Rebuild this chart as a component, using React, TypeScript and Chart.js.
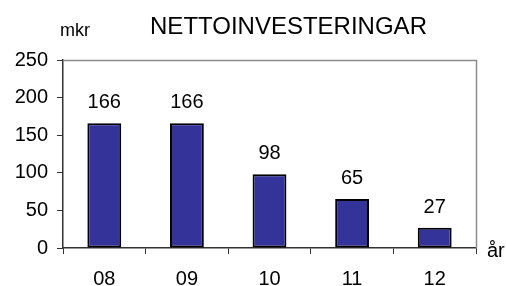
import React, { useEffect, useRef } from "react";
import { Chart, registerables } from "chart.js";

Chart.register(...registerables);

const categories = ["08", "09", "10", "11", "12"];
const values = [166, 166, 98, 65, 27];
const yTicks = [0, 50, 100, 150, 200, 250];
const titleText = "NETTOINVESTERINGAR";
const yUnit = "mkr";
const xUnit = "år";

const FONT = "'Liberation Sans', Arial, sans-serif";

export default function App() {
  const ref = useRef<HTMLCanvasElement | null>(null);

  useEffect(() => {
    if (!ref.current) return;
    const textPlugin = {
      id: "texts",
      afterDraw(chart: any) {
        const ctx = chart.ctx;
        const a = chart.chartArea;
        ctx.save();
        // plot border top/right
        ctx.strokeStyle = "#8c8c8c";
        ctx.lineWidth = 1.5;
        ctx.beginPath();
        ctx.moveTo(a.left, a.top + 0.5);
        ctx.lineTo(a.right + 0.5, a.top + 0.5);
        ctx.lineTo(a.right + 0.5, a.bottom);
        ctx.stroke();
        // data labels
        ctx.fillStyle = "#000";
        ctx.font = `20px ${FONT}`;
        ctx.textAlign = "center";
        ctx.textBaseline = "alphabetic";
        const meta = chart.getDatasetMeta(0);
        meta.data.forEach((bar: any, i: number) => {
          ctx.fillText(String(values[i]), bar.x, bar.y - 15);
        });
        // title
        ctx.font = `24px ${FONT}`;
        ctx.fillText(titleText, 288.5, 33.5);
        // units
        ctx.textAlign = "left";
        ctx.font = `18px ${FONT}`;
        ctx.fillText(yUnit, 60, 36);
        ctx.font = `20px ${FONT}`;
        ctx.fillText(xUnit, 487, 257);
        ctx.restore();
      },
    };

    const chart = new Chart(ref.current, {
      type: "bar",
      data: {
        labels: categories,
        datasets: [
          {
            data: values,
            backgroundColor: "#333399",
            borderColor: "#000000",
            borderWidth: 2,
            borderSkipped: false,
            barPercentage: 0.41,
            categoryPercentage: 1,
          },
        ],
      },
      options: {
        responsive: false,
        animation: false,
        layout: { padding: { left: 0, top: 60, right: 30, bottom: 0 } },
        plugins: {
          legend: { display: false },
          title: { display: false },
          tooltip: { enabled: false },
        },
        scales: {
          x: {
            afterFit: (s: any) => {
              s.height = 38;
            },
            grid: {
              offset: true,
              drawOnChartArea: false,
              drawTicks: true,
              tickLength: 6,
              color: "#333333",
              lineWidth: 1,
            },
            border: { display: true, color: "#333333", width: 1.5 },
            ticks: {
              color: "#000",
              font: { family: FONT, size: 20 },
              padding: 13,
              maxRotation: 0,
            },
          },
          y: {
            min: 0,
            max: 250,
            afterFit: (s: any) => {
              s.width = 63;
            },
            afterBuildTicks: (s: any) => {
              s.ticks = yTicks.map((v) => ({ value: v }));
            },
            grid: {
              drawOnChartArea: false,
              drawTicks: true,
              tickLength: 6,
              color: "#333333",
              lineWidth: 1,
            },
            border: { display: true, color: "#333333", width: 1.5 },
            ticks: {
              color: "#000",
              font: { family: FONT, size: 20 },
              padding: 9,
            },
          },
        },
      },
      plugins: [textPlugin],
    });
    return () => chart.destroy();
  }, []);

  return (
    <div style={{ position: "fixed", left: 0, top: 0, width: 506, height: 286, background: "#fff" }}>
      <canvas ref={ref} width={506} height={286} style={{ display: "block" }} />
    </div>
  );
}
